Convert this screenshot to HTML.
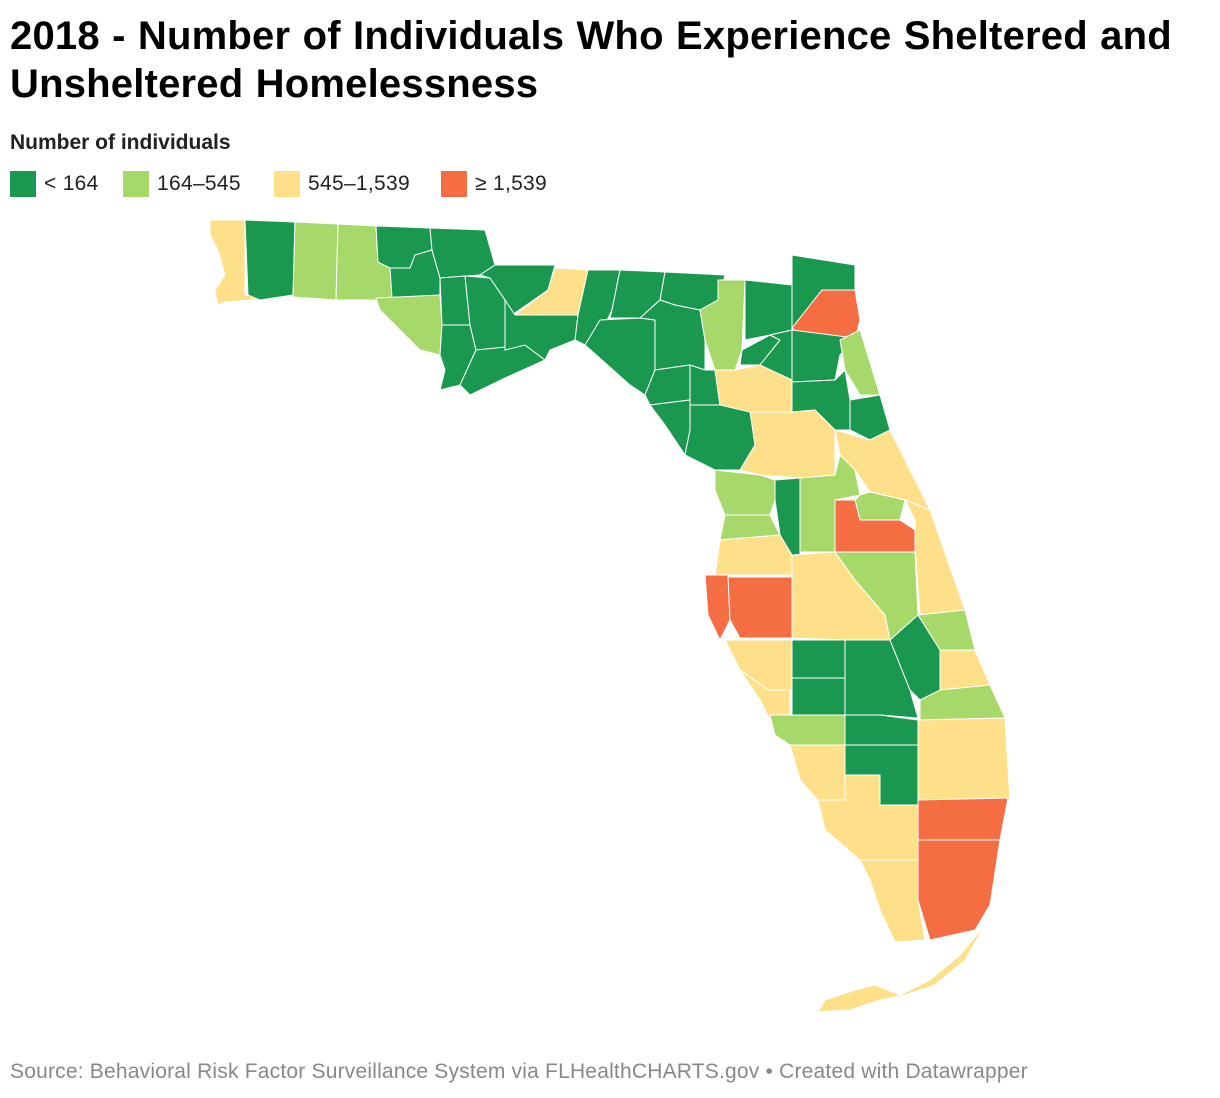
<!DOCTYPE html>
<html><head><meta charset="utf-8"><style>
body{margin:0;background:#fff;font-family:"Liberation Sans",sans-serif;}
#wrap{position:relative;width:1220px;height:1098px;overflow:hidden;}
h1{position:absolute;left:10px;top:12px;margin:0;font-size:40px;line-height:48px;font-weight:bold;color:#000;letter-spacing:0.2px;word-spacing:1px;}
.lt{position:absolute;left:10px;top:131px;font-size:21px;font-weight:bold;color:#222;}
.leg{position:absolute;top:171px;height:26px;display:flex;align-items:center;font-size:21px;color:#222;letter-spacing:0.3px;}
.sw{width:26px;height:26px;margin-right:8px;}
.src{position:absolute;left:10px;top:1060px;font-size:21px;color:#888;letter-spacing:0.2px;}
svg{position:absolute;left:0;top:0;}
</style></head><body>
<div id="wrap">
<h1>2018 - Number of Individuals Who Experience Sheltered and<br>Unsheltered Homelessness</h1>
<div class="lt">Number of individuals</div>
<div class="leg" style="left:10px"><div class="sw" style="background:#1a9850"></div>&lt; 164</div>
<div class="leg" style="left:123px"><div class="sw" style="background:#a6d96a"></div>164–545</div>
<div class="leg" style="left:274px"><div class="sw" style="background:#fee08b"></div>545–1,539</div>
<div class="leg" style="left:441px"><div class="sw" style="background:#f46d43"></div>≥ 1,539</div>
<svg id="map" width="1220" height="1098"></svg>
<div class="src">Source: Behavioral Risk Factor Surveillance System via FLHealthCHARTS.gov • Created with Datawrapper</div>
</div>
<script>
const counties=["Escambia","Santa Rosa","Okaloosa","Walton","Holmes","Washington","Bay","Jackson","Calhoun","Gulf","Liberty","Franklin","Gadsden","Leon","Wakulla","Jefferson","Madison","Taylor","Hamilton","Suwannee","Lafayette","Dixie","Columbia","Gilchrist","Levy","Baker","Union","Bradford","Alachua","Nassau","Duval","Clay","St. Johns","Putnam","Flagler","Marion","Volusia","Citrus","Sumter","Lake","Seminole","Hernando","Orange","Brevard","Pasco","Pinellas","Hillsborough","Polk","Osceola","Manatee","Hardee","Highlands","Okeechobee","Indian River","St. Lucie","Martin","Sarasota","DeSoto","Charlotte","Glades","Palm Beach","Lee","Hendry","Collier","Broward","Miami-Dade","Monroe","Monroe Keys"];
const values=[900,100,300,250,40,60,400,90,20,30,15,50,80,700,40,30,40,60,30,70,10,40,350,20,100,50,30,60,900,90,2000,120,400,100,90,800,1200,300,60,400,300,350,2100,1000,700,2000,1800,900,450,700,40,120,60,300,600,250,800,50,300,20,1300,1000,60,700,2300,3500,600,600];
const thresholds=[164,545,1539];
const colors=["#1a9850","#a6d96a","#fee08b","#f46d43"];
const shapes={
"Escambia":[[210,220],[245,220],[245,295],[280,296],[250,300],[225,302],[218,305],[215,290],[225,275],[218,250],[210,235]],
"Santa Rosa":[[245,220],[295,222],[293,295],[260,300],[248,295]],
"Okaloosa":[[295,222],[338,224],[336,300],[293,297]],
"Walton":[[338,224],[376,226],[378,262],[390,268],[392,298],[376,300],[336,300]],
"Holmes":[[376,226],[430,228],[432,250],[415,255],[410,268],[390,268],[378,262]],
"Washington":[[390,268],[410,268],[415,255],[432,250],[440,278],[440,295],[392,298]],
"Bay":[[376,298],[440,295],[442,325],[440,355],[420,350],[400,330],[380,310]],
"Jackson":[[430,228],[485,230],[495,265],[480,275],[440,278],[432,250]],
"Calhoun":[[440,278],[465,276],[470,325],[442,325]],
"Gulf":[[442,325],[470,325],[476,350],[460,385],[440,390],[445,370],[440,355]],
"Liberty":[[465,276],[490,278],[505,300],[505,350],[476,350],[470,325]],
"Franklin":[[476,350],[525,345],[545,360],[505,378],[470,395],[460,385]],
"Gadsden":[[495,265],[555,265],[548,290],[512,315],[505,300],[490,278],[480,275]],
"Leon":[[555,268],[588,270],[585,290],[578,315],[515,315],[548,290]],
"Wakulla":[[515,315],[578,315],[575,340],[550,350],[545,360],[525,345],[505,350],[505,300]],
"Jefferson":[[588,270],[620,270],[612,310],[600,335],[585,345],[575,340],[578,315]],
"Madison":[[620,270],[665,272],[660,300],[640,318],[610,318],[612,310]],
"Taylor":[[600,320],[640,318],[655,320],[655,370],[645,395],[630,385],[585,345]],
"Hamilton":[[665,272],[725,275],[718,300],[700,310],[675,305],[660,300]],
"Suwannee":[[660,300],[675,305],[700,310],[705,340],[705,370],[690,365],[655,370],[655,320],[640,318]],
"Lafayette":[[655,370],[690,365],[695,375],[690,400],[650,405],[645,395]],
"Dixie":[[650,405],[690,400],[690,430],[685,455],[665,425]],
"Columbia":[[718,280],[745,280],[742,350],[735,370],[715,370],[705,340],[700,310],[718,300]],
"Gilchrist":[[690,365],[705,370],[715,370],[720,405],[690,405]],
"Levy":[[690,405],[720,405],[750,410],[755,445],[740,470],[715,470],[685,455],[690,430]],
"Baker":[[745,280],[792,285],[792,330],[770,335],[745,340]],
"Union":[[742,350],[770,335],[780,340],[760,365],[740,365]],
"Bradford":[[770,335],[792,330],[792,380],[775,375],[760,365],[780,340]],
"Alachua":[[735,370],[760,365],[792,380],[792,412],[750,412],[720,405],[715,370]],
"Nassau":[[792,255],[855,265],[855,290],[822,290],[792,328]],
"Duval":[[792,328],[822,290],[855,290],[860,320],[855,340],[800,335]],
"Clay":[[792,330],[855,338],[840,355],[835,380],[792,382]],
"St. Johns":[[840,340],[860,330],[880,395],[860,395],[845,370]],
"Putnam":[[792,382],[835,380],[845,370],[850,400],[850,430],[835,430],[815,410],[792,412]],
"Flagler":[[850,400],[880,395],[890,430],[870,440],[850,430]],
"Marion":[[750,412],[792,412],[815,410],[835,430],[835,475],[800,478],[760,475],[740,470],[755,445]],
"Volusia":[[835,430],[870,440],[890,430],[930,510],[905,500],[870,492],[855,470],[840,455]],
"Citrus":[[715,470],[760,475],[775,480],[775,500],[770,515],[725,515],[715,490]],
"Sumter":[[775,480],[800,478],[800,555],[790,555],[780,535],[775,500]],
"Lake":[[800,478],[835,475],[840,455],[855,470],[860,495],[835,500],[835,552],[800,552]],
"Seminole":[[860,495],[870,492],[905,500],[900,520],[860,520],[855,500]],
"Hernando":[[725,515],[770,515],[780,535],[720,540]],
"Orange":[[835,500],[855,500],[860,520],[900,520],[915,530],[915,552],[835,552]],
"Brevard":[[905,500],[930,510],[965,610],[940,618],[920,615],[915,550],[915,520]],
"Pasco":[[720,540],[780,535],[792,555],[792,575],[715,575]],
"Pinellas":[[705,575],[728,575],[730,620],[720,640],[708,615]],
"Hillsborough":[[728,577],[792,577],[792,638],[740,638],[730,620]],
"Polk":[[792,555],[835,552],[855,580],[885,615],[890,640],[845,640],[792,638]],
"Osceola":[[835,552],[915,552],[918,615],[890,640],[885,615],[855,580]],
"Manatee":[[725,640],[792,640],[792,690],[768,690],[740,670]],
"Hardee":[[792,640],[845,640],[845,678],[792,678]],
"Highlands":[[845,640],[890,640],[910,690],[918,718],[880,715],[845,715]],
"Okeechobee":[[890,640],[918,615],[940,650],[940,700],[920,700],[910,690]],
"Indian River":[[918,615],[965,610],[975,650],[940,650]],
"St. Lucie":[[940,650],[975,650],[990,685],[940,690]],
"Martin":[[920,700],[940,690],[990,685],[1005,718],[920,720]],
"Sarasota":[[740,670],[768,690],[790,690],[790,715],[770,720],[760,700]],
"DeSoto":[[792,678],[845,678],[845,715],[792,715]],
"Charlotte":[[770,715],[845,715],[845,745],[790,745],[775,735]],
"Glades":[[845,715],[880,715],[918,720],[918,745],[845,745]],
"Palm Beach":[[918,720],[1005,718],[1010,800],[918,800]],
"Lee":[[790,745],[845,745],[845,775],[845,800],[818,800],[800,780]],
"Hendry":[[845,745],[918,745],[918,805],[880,805],[880,775],[845,775]],
"Collier":[[845,775],[880,775],[880,805],[918,805],[918,860],[860,860],[825,830],[818,800],[845,800]],
"Broward":[[918,800],[1008,798],[1000,840],[918,840]],
"Miami-Dade":[[918,840],[1000,840],[990,905],[975,930],[930,940],[918,900]],
"Monroe":[[860,860],[918,860],[918,900],[925,940],[895,942],[880,910],[870,880]],
"Monroe Keys":[[985,925],[960,955],[930,980],[900,995],[875,985],[855,990],[825,1000],[818,1012],[850,1010],[880,1000],[905,995],[935,985],[965,960]]
};
function colorFor(v){let i=0;while(i<thresholds.length&&v>=thresholds[i])i++;return colors[i];}
const svg=document.getElementById('map');
const NS='http://www.w3.org/2000/svg';
counties.forEach((c,i)=>{
  const p=document.createElementNS(NS,'polygon');
  p.setAttribute('points',shapes[c].map(q=>q.join(',')).join(' '));
  p.setAttribute('fill',colorFor(values[i]));
  p.setAttribute('stroke','#fff');
  p.setAttribute('stroke-width','1');
  
  
  svg.appendChild(p);
});
</script>
</body></html>
